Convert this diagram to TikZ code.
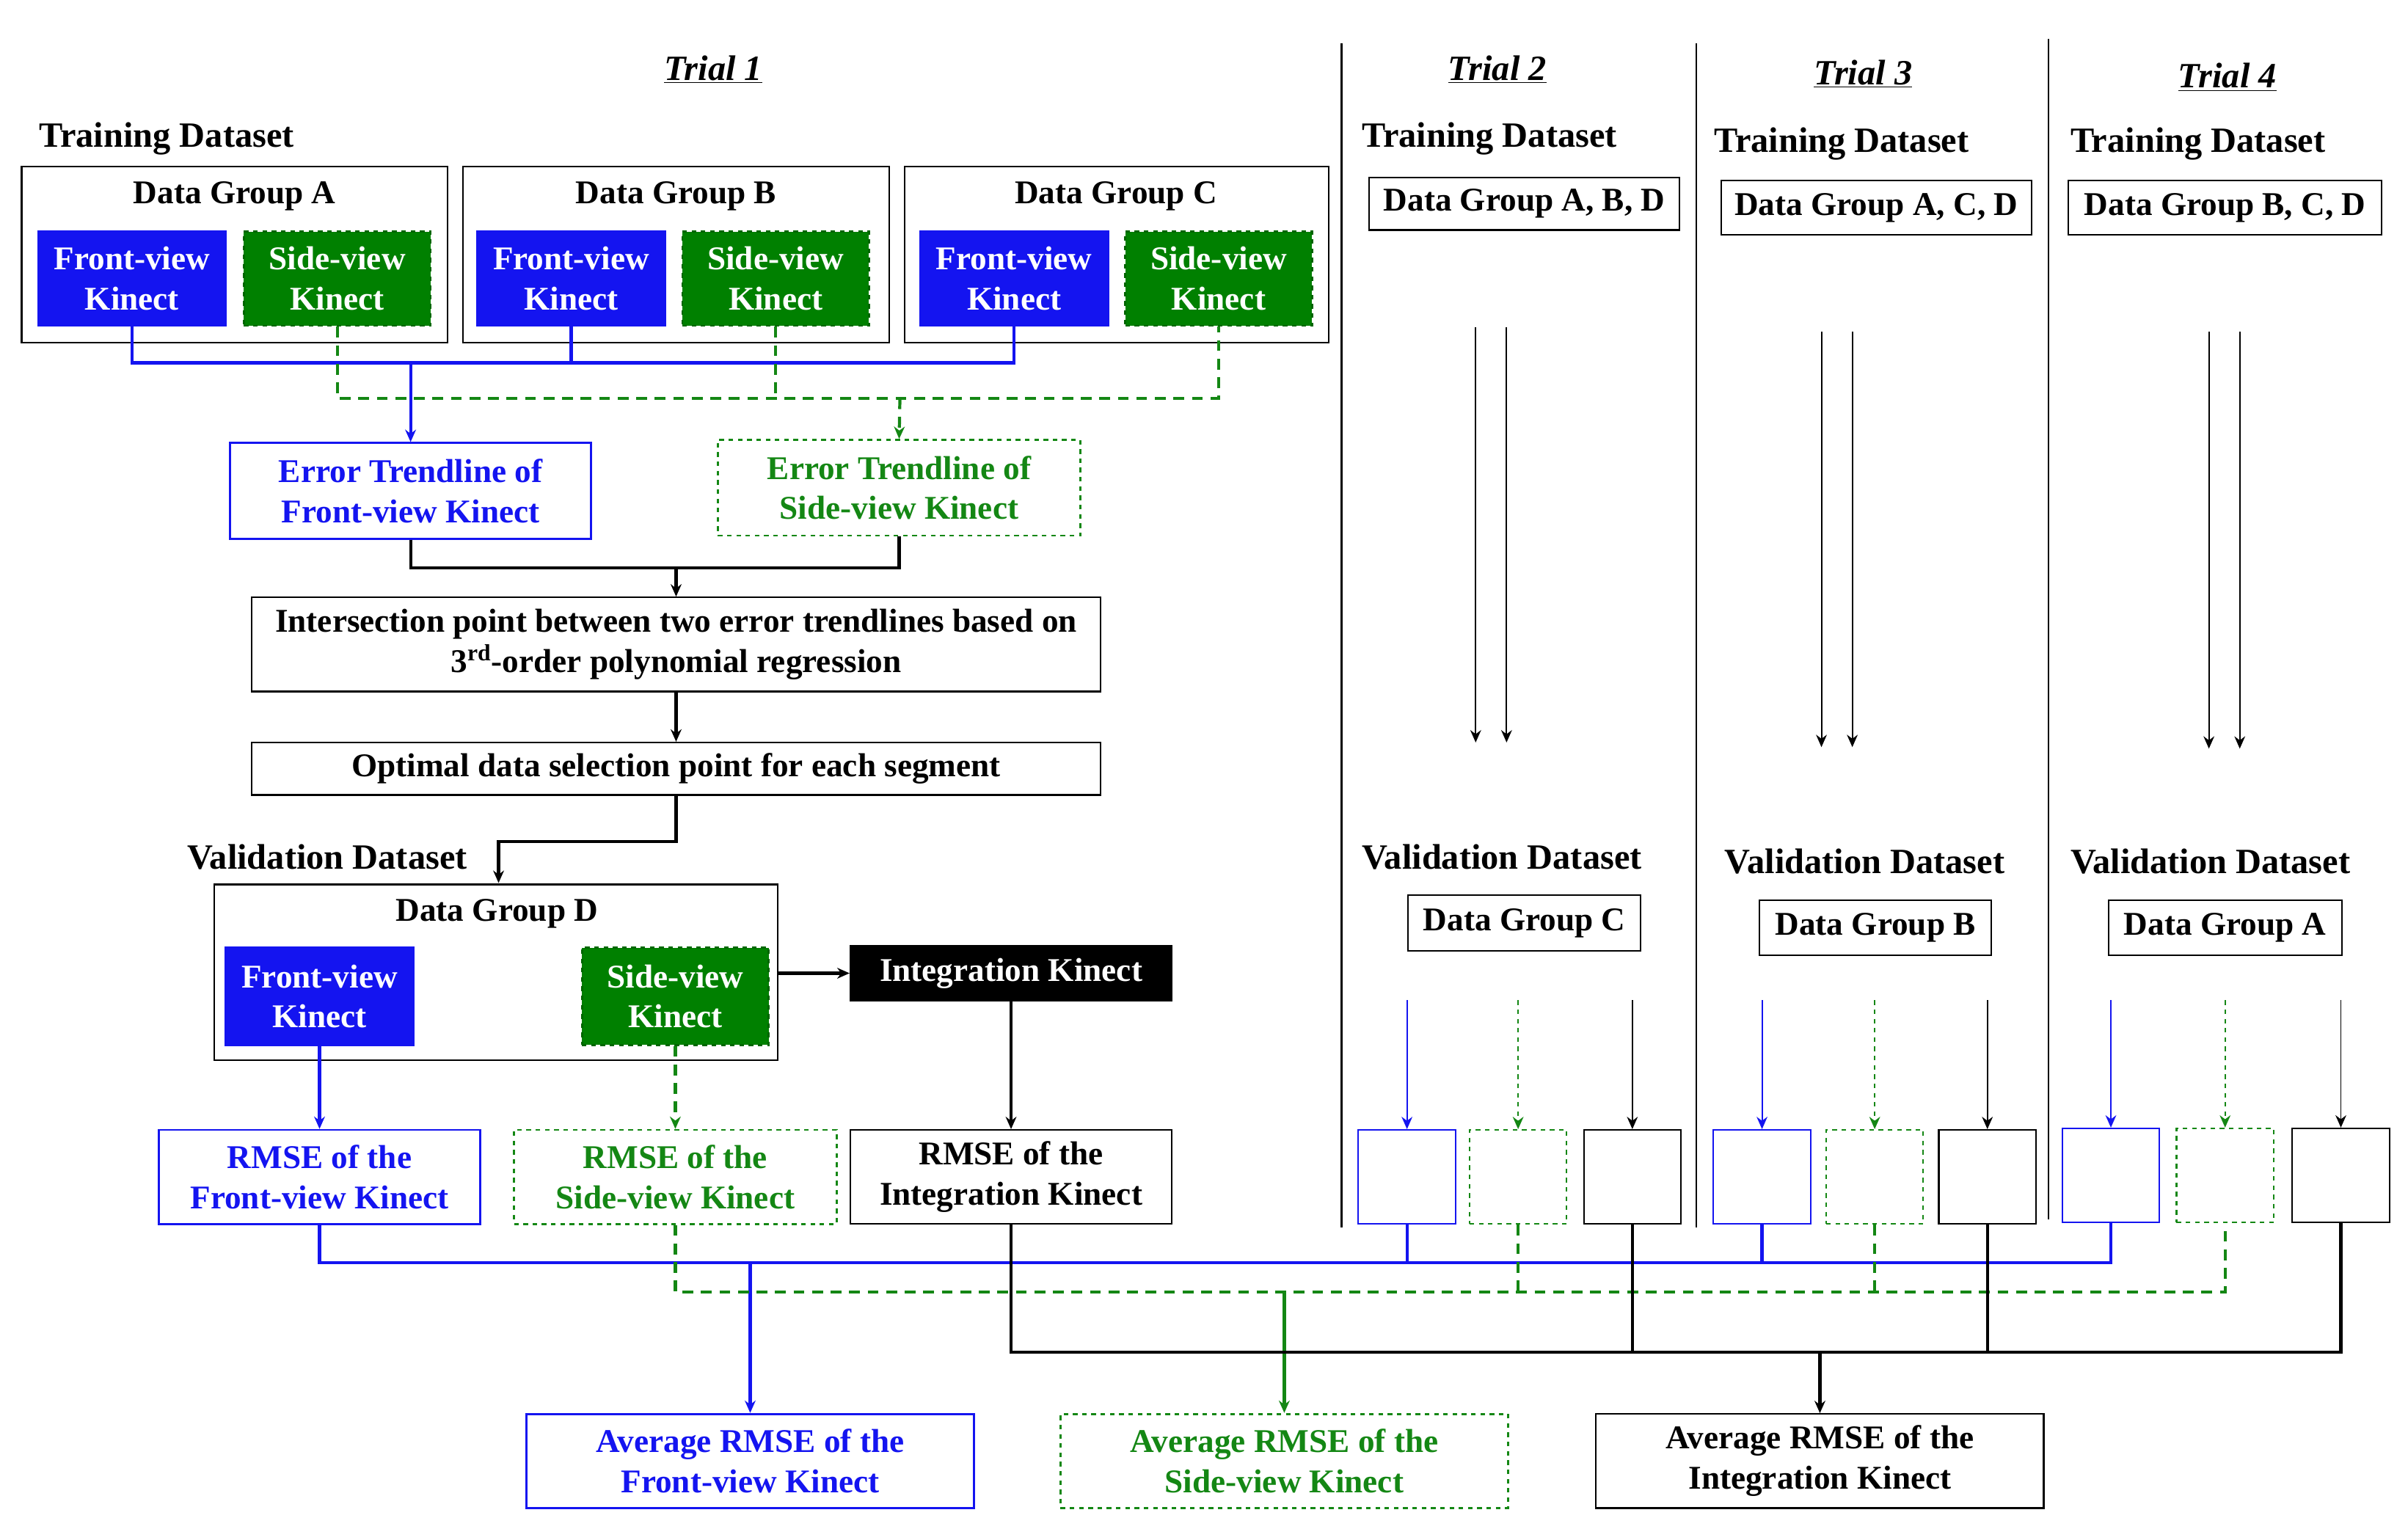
\documentclass[tikz,border=0pt]{standalone}
\usepackage{fontspec}
\setmainfont{Liberation Serif}
\usetikzlibrary{arrows.meta}
\definecolor{bl}{RGB}{20,20,240}
\definecolor{gr}{RGB}{20,135,20}
\definecolor{gf}{RGB}{0,128,0}
\begin{document}
\begin{tikzpicture}[x=1pt,y=1pt,font=\fontsize{21.5}{26}\selectfont\bfseries,
 box/.style={draw,line width=1.3pt,inner sep=0pt,align=center},
 fb/.style={box,fill=bl,text=white,draw=bl},
 sb/.style={box,fill=gf,text=white,draw=green!40!black,dashed},
 bb/.style={box,draw=bl,text=bl},
 gb/.style={box,draw=gr,text=gr,dashed},
 kb/.style={box,fill=black,text=white},
 tb/.style={box,line width=1pt},
 bline/.style={draw=bl,line width=2pt},
 gline/.style={draw=gr,line width=2pt,dash pattern=on 7pt off 5pt},
 kline/.style={draw=black,line width=2pt},
 tin/.style={line width=0.9pt},
 ar/.style={-{Stealth[length=8pt,width=7pt]}},
 lbl/.style={inner sep=0pt,font=\fontsize{23}{26}\selectfont\bfseries},
 ttl/.style={inner sep=0pt,font=\fontsize{23}{26}\selectfont\bfseries\itshape}]
\newcommand\bx[7]{\node[#6, minimum width={(#4-#2)*1pt}, minimum height={(#5-#3)*1pt}] (#1) at ({(#2+#4)/2},{-(#3+#5)/2}) {#7};}
\useasboundingbox (0,0) rectangle (1560,-983);
% separators
\draw[line width=1.2pt] (869,-28) coordinate(s1a) -- (869,-795) coordinate(s1b);
\draw[line width=1.2pt] (1099,-28) coordinate(s2a) -- (1099,-795) coordinate(s2b);
\draw[line width=1.2pt] (1327,-25) coordinate(s3a) -- (1327,-790) coordinate(s3b);
% titles
\node[ttl] (t1) at (462,-45) {\underline{Trial 1}};
\node[ttl] (t2) at (970,-45) {\underline{Trial 2}};
\node[ttl] (t3) at (1207,-48) {\underline{Trial 3}};
\node[ttl] (t4) at (1443,-50) {\underline{Trial 4}};
\node[lbl] (td1) at (108,-90) {Training Dataset};
% groups
\bx{gA}{14}{108}{290}{222}{tb}{}
\bx{gB}{300}{108}{576}{222}{tb}{}
\bx{gC}{586}{108}{861}{222}{tb}{}
\node (gAt) at (152,-127) {Data Group A};
\node (gBt) at (438,-127) {Data Group B};
\node (gCt) at (723,-127) {Data Group C};
\bx{fA}{25}{150}{146}{211}{fb}{Front-view\\Kinect}
\bx{sA}{158}{150}{279}{211}{sb}{Side-view\\Kinect}
\bx{fB}{309}{150}{431}{211}{fb}{Front-view\\Kinect}
\bx{sB}{442}{150}{563}{211}{sb}{Side-view\\Kinect}
\bx{fC}{596}{150}{718}{211}{fb}{Front-view\\Kinect}
\bx{sC}{729}{150}{850}{211}{sb}{Side-view\\Kinect}
\bx{eF}{149}{287}{383}{349}{bb}{Error Trendline of\\Front-view Kinect}
\bx{eS}{465}{285}{700}{347}{gb}{Error Trendline of\\Side-view Kinect}
\coordinate (bj) at (266,-235);
\draw[bline] (fA.south) |- (bj) -| (fC.south);
\draw[bline] (fB.south) -- (fB.south |- bj);
\draw[bline,ar] (bj) -- (eF.north);
\coordinate (gj) at (583,-258);
\draw[gline] (sA.south) |- (gj) -| (sC.south);
\draw[gline] (sB.south) -- (sB.south |- gj);
\draw[gline,ar] (gj) -- (eS.north);
\bx{ip}{163}{387}{713}{448}{tb}{Intersection point between two error trendlines based on\\3\textsuperscript{rd}-order polynomial regression}
\coordinate (kj) at (438,-368);
\draw[kline] (eF.south) |- (kj) -| (eS.south);
\draw[kline,ar] (kj) -- (ip.north);
\bx{op}{163}{481}{713}{515}{tb}{Optimal data selection point for each segment}
\draw[kline,ar] (ip.south) -- (op.north);
\node[lbl] (vd1) at (212,-555) {Validation Dataset};
\bx{gD}{139}{573}{504}{687}{tb}{}
\coordinate (dj) at (438,-545);
\draw[kline,ar] (op.south) -- (dj) -| (323,-572);
\node (gDt) at (322,-592) {Data Group D};
\bx{fD}{146}{614}{268}{677}{fb}{Front-view\\Kinect}
\bx{sD}{377}{614}{498}{677}{sb}{Side-view\\Kinect}
\bx{ik}{551}{613}{759}{648}{kb}{Integration Kinect}
\draw[kline,ar] (gD.east |- ik.west) -- (ik.west);
\bx{rF}{103}{732}{311}{793}{bb}{RMSE of the\\Front-view Kinect}
\bx{rS}{333}{732}{542}{793}{gb}{RMSE of the\\Side-view Kinect}
\bx{rK}{551}{732}{759}{793}{tb}{RMSE of the\\Integration Kinect}
\draw[bline,ar] (fD.south) -- (rF.north);
\draw[gline,ar] (sD.south) -- (rS.north);
\draw[kline,ar] (ik.south) -- (rK.north);
% trial 2-4
\foreach \n/\tx/\ty/\ax/\ay/\bxa/\bxb/\tr/\vx/\vy/\dxa/\dya/\dxb/\dyb/\vt/\xa/\xb/\xc/\ya/\yb in {
 2/965/90/887/115/1088/149/{A, B, D}/973/555/912/580/1063/616/C/880/952/1026/732/793,
 3/1193/93/1115/117/1316/152/{A, C, D}/1208/558/1140/583/1290/619/B/1110/1183/1256/732/793,
 4/1424/93/1340/117/1543/152/{B, C, D}/1432/558/1366/583/1517/619/A/1336/1410/1485/731/792}{
 \node[lbl] (tr\n) at (\tx,-\ty) {Training Dataset};
 \bx{tg\n}{\ax}{\ay}{\bxa}{\bxb}{tb}{Data Group \tr}
 \node[lbl] (vl\n) at (\vx,-\vy) {Validation Dataset};
 \bx{vg\n}{\dxa}{\dya}{\dxb}{\dyb}{tb}{Data Group \vt}
 \bx{qb\n}{\xa}{\ya}{\xa+63}{\yb}{box,draw=bl,line width=1pt}{}
 \bx{qg\n}{\xb}{\ya}{\xb+63}{\yb}{box,draw=gr,dashed,line width=1pt}{}
 \bx{qk\n}{\xc}{\ya}{\xc+63}{\yb}{box,line width=1pt}{}
 \draw[tin,draw=bl,ar] (qb\n.north |- 0,-648) coordinate (pb\n) -- (qb\n.north);
 \draw[tin,draw=gr,dashed,ar] (qg\n.north |- 0,-648) coordinate (pg\n) -- (qg\n.north);
 \draw[tin,ar] (qk\n.north |- 0,-648) coordinate (pk\n) -- (qk\n.north);
}
\draw[tin,ar] (956,-212) -- (956,-481); \draw[tin,ar] (976,-212) -- (976,-481);
\draw[tin,ar] (1180,-215) -- (1180,-484); \draw[tin,ar] (1200,-215) -- (1200,-484);
\draw[tin,ar] (1431,-215) -- (1431,-485); \draw[tin,ar] (1451,-215) -- (1451,-485);
% averages
\bx{aF}{341}{916}{631}{977}{bb}{Average RMSE of the\\Front-view Kinect}
\bx{aS}{687}{916}{977}{977}{gb}{Average RMSE of the\\Side-view Kinect}
\bx{aK}{1034}{916}{1324}{977}{tb}{Average RMSE of the\\Integration Kinect}
\coordinate (yb) at (0,-818); \coordinate (yg) at (0,-837); \coordinate (yk) at (0,-876);
\draw[bline] (rF.south) |- (qb4.south |- yb) -- (qb4.south);
\draw[bline] (qb2.south) -- (qb2.south |- yb);
\draw[bline] (qb3.south) -- (qb3.south |- yb);
\draw[bline,ar] (aF.north |- yb) -- (aF.north);
\draw[gline] (rS.south) |- (qg4.south |- yg) -- (qg4.south);
\draw[gline] (qg2.south) -- (qg2.south |- yg);
\draw[gline] (qg3.south) -- (qg3.south |- yg);
\draw[draw=gr,line width=2pt,ar] (aS.north |- yg) -- (aS.north);
\draw[kline] (rK.south) |- (qk4.south |- yk) -- (qk4.south);
\draw[kline] (qk2.south) -- (qk2.south |- yk);
\draw[kline] (qk3.south) -- (qk3.south |- yk);
\draw[kline,ar] (aK.north |- yk) -- (aK.north);
\end{tikzpicture}
\end{document}
